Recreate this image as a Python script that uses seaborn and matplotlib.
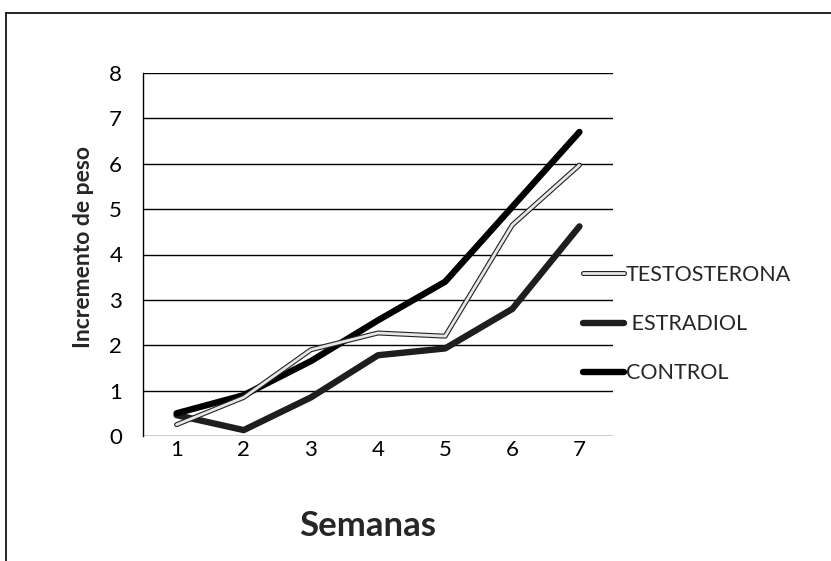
import matplotlib
matplotlib.use("Agg")
import matplotlib.pyplot as plt
import matplotlib.patheffects as pe
from matplotlib.lines import Line2D
import seaborn as sns
import pandas as pd

semanas = [1, 2, 3, 4, 5, 6, 7]
testosterona = [0.25, 0.85, 1.9, 2.27, 2.2, 4.65, 5.97]
estradiol = [0.46, 0.13, 0.85, 1.78, 1.93, 2.8, 4.62]
control = [0.5, 0.9, 1.65, 2.55, 3.4, 5.05, 6.7]
y_ticks = [0, 1, 2, 3, 4, 5, 6, 7, 8]

sns.set_theme(style="white")
plt.rcParams['font.family'] = ['Lato', 'DejaVu Sans']

fig = plt.figure(figsize=(8.31, 5.61), dpi=100)
ax = fig.add_axes([143/831, 1-436/561, (613-143)/831, (436-73)/561])

df = pd.DataFrame({
    'Semanas': semanas * 3,
    'valor': testosterona + estradiol + control,
    'serie': ['TESTOSTERONA'] * 7 + ['ESTRADIOL'] * 7 + ['CONTROL'] * 7,
})

for ytk in y_ticks:
    ax.axhline(ytk, color='black', lw=1.0, zorder=0)

sns.lineplot(data=df[df.serie == 'ESTRADIOL'], x='Semanas', y='valor', ax=ax,
             color='#1e1e1e', lw=4.6, legend=False, zorder=2,
             solid_capstyle='round', solid_joinstyle='round')
sns.lineplot(data=df[df.serie == 'CONTROL'], x='Semanas', y='valor', ax=ax,
             color='black', lw=4.6, legend=False, zorder=3,
             solid_capstyle='round', solid_joinstyle='round')
sns.lineplot(data=df[df.serie == 'TESTOSTERONA'], x='Semanas', y='valor', ax=ax,
             color='#e6e6e6', lw=2.0, legend=False, zorder=4,
             path_effects=[pe.Stroke(linewidth=3.6, foreground='#222222'), pe.Normal()])

ax.set_xlim(0.5, 7.5)
ax.set_ylim(0, 8)
ax.set_xticks(semanas)
ax.set_yticks(y_ticks)
ax.tick_params(axis='both', length=0, labelsize=16, colors='black')
ax.tick_params(axis='x', pad=3)
ax.tick_params(axis='y', pad=15)
for s in ['top', 'right', 'bottom']:
    ax.spines[s].set_visible(False)
ax.spines['left'].set_color('black')
ax.spines['left'].set_linewidth(1.0)

ax.set_xlabel('Semanas', fontsize=25, fontweight='bold', labelpad=36, x=0.479)
ax.set_ylabel('Incremento de peso', fontsize=16.5, fontweight='bold', labelpad=11, y=0.52)

handles = [
    Line2D([0], [0], color='#e6e6e6', lw=2.0,
           path_effects=[pe.Stroke(linewidth=3.6, foreground='#222222'), pe.Normal()]),
    Line2D([0], [0], color='#1e1e1e', lw=4.6),
    Line2D([0], [0], color='black', lw=4.6),
]
labels = ['TESTOSTERONA', ' ESTRADIOL', 'CONTROL']
fig.legend(handles, labels, loc='upper left', bbox_to_anchor=(583/831, 1-265/561),
           frameon=False, fontsize=15.5, handlelength=1.9, handletextpad=0.1,
           labelspacing=1.35, borderpad=0, borderaxespad=0)

fig.add_artist(Line2D([6/831, 6/831], [0, 1-13/561], color='black', lw=1.2,
                      transform=fig.transFigure))
fig.add_artist(Line2D([6/831, 1], [1-13/561, 1-13/561], color='black', lw=1.2,
                      transform=fig.transFigure))

fig.savefig('out.png', dpi=100)
